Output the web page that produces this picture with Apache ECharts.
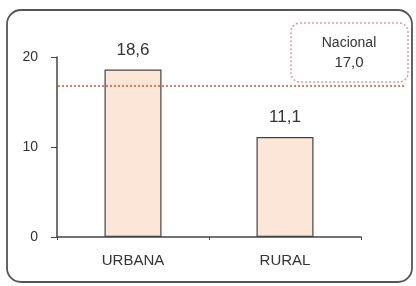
<!DOCTYPE html>
<html>
<head>
<meta charset="utf-8">
<script src="https://cdn.jsdelivr.net/npm/echarts@6/dist/echarts.min.js"></script>
<style>
  html, body { margin: 0; padding: 0; background: #fff; }
  #chart { width: 416px; height: 286px; }
</style>
</head>
<body>
<div id="chart"></div>
<script>
// values
const categories = ['URBANA', 'RURAL'];
const values = [18.6, 11.1];
const nacional = 17.0;
const yTicks = [0, 10, 20];

const fmt = v => v.toFixed(1).replace('.', ',');
const font = 'Liberation Sans';

const chart = echarts.init(document.getElementById('chart'));
chart.setOption({
    animation: false,
    grid: { left: 57, right: 55, top: 57, bottom: 49 },
    xAxis: {
        type: 'category',
        data: categories,
        axisLine: { lineStyle: { color: '#444', width: 1.5 } },
        axisTick: { show: true, length: 3, lineStyle: { color: '#444' } },
        axisLabel: { color: '#333', fontFamily: font, fontSize: 15, margin: 16 }
    },
    yAxis: {
        type: 'value',
        min: yTicks[0],
        max: yTicks[yTicks.length - 1],
        interval: 10,
        splitLine: { show: false },
        axisLine: { show: true, lineStyle: { color: '#444', width: 1.5 } },
        axisTick: { show: true, length: 6, lineStyle: { color: '#444' } },
        axisLabel: { color: '#333', fontFamily: font, fontSize: 14, margin: 19 }
    },
    series: [{
        type: 'bar',
        data: values,
        barWidth: 57,
        itemStyle: { color: '#fce6d8', borderColor: '#444', borderWidth: 1.2 },
        label: {
            show: true,
            position: 'top',
            distance: 11,
            formatter: p => fmt(p.value),
            color: '#333',
            fontFamily: font,
            fontSize: 17
        }
    }]
});

// national reference line runs past the plot, under the legend box
const yLine = chart.convertToPixel({ yAxisIndex: 0 }, nacional);
chart.setOption({
    graphic: [
        {
            type: 'rect',
            shape: { x: 7, y: 10, width: 405, height: 272, r: 14 },
            style: { fill: 'none', stroke: '#555', lineWidth: 1.8 }
        },
        {
            type: 'line',
            shape: { x1: 58, y1: yLine + 2, x2: 405, y2: yLine + 2 },
            style: { stroke: '#e0502a', lineWidth: 1.5, lineDash: [2, 2] },
            z: 5
        },
        {
            type: 'rect',
            shape: { x: 291, y: 23, width: 117, height: 59, r: 9 },
            style: { fill: '#fff', stroke: '#d9a0a0', lineWidth: 1.5, lineDash: [2, 2] },
            z: 10
        },
        {
            type: 'text',
            x: 349, y: 43,
            style: { text: 'Nacional', font: '14px "Liberation Sans"', fill: '#333', align: 'center', verticalAlign: 'middle' },
            z: 11
        },
        {
            type: 'text',
            x: 349, y: 63,
            style: { text: fmt(nacional), font: '15px "Liberation Sans"', fill: '#333', align: 'center', verticalAlign: 'middle' },
            z: 11
        }
    ]
});
</script>
</body>
</html>
